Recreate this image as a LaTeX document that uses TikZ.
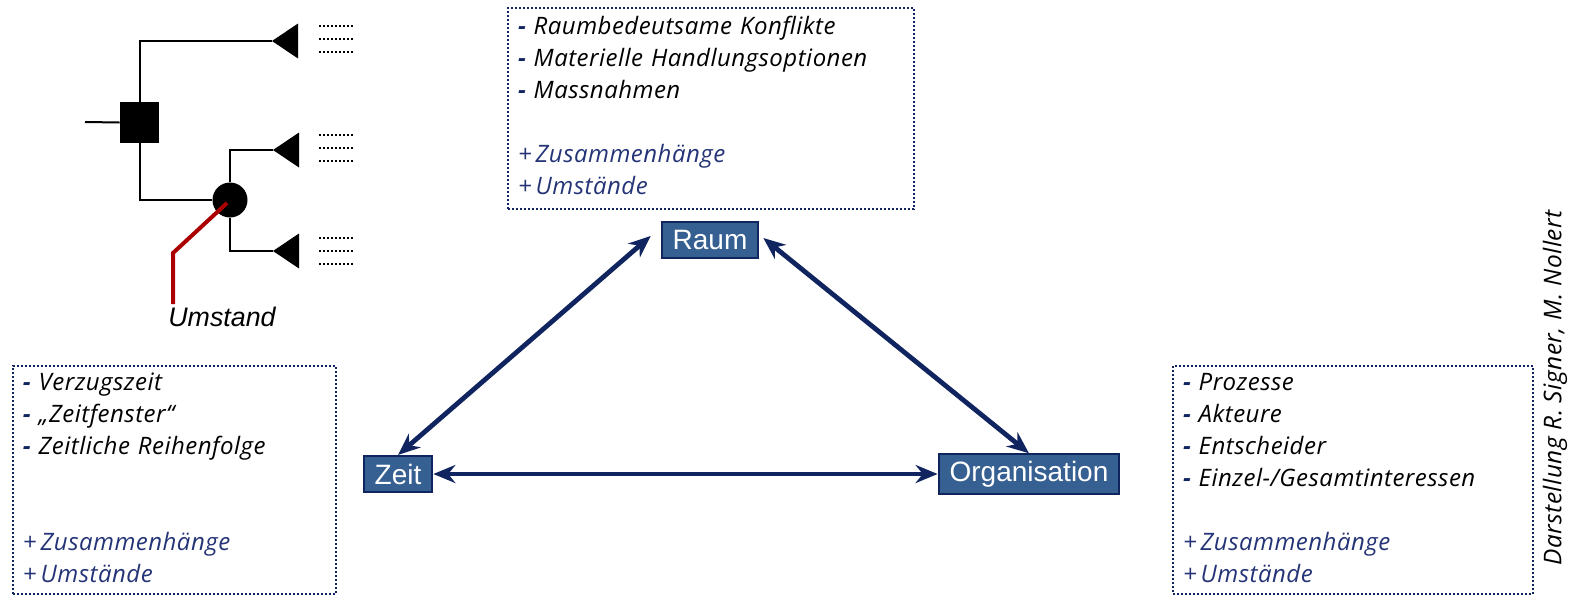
\documentclass[tikz,border=0pt]{standalone}
\usepackage{fontspec}
\setmainfont{Liberation Sans}
\newfontfamily\notefont{Open Sans}[LetterSpace=2]
\usetikzlibrary{arrows.meta}
\definecolor{navyline}{RGB}{16,36,96}
\definecolor{boxblue}{RGB}{54,96,146}
\definecolor{noteblue}{RGB}{36,52,118}
\definecolor{umstandred}{RGB}{170,0,0}
\newcommand{\lstdash}{\textcolor{navyline}{\textbf{-}}\ }
\newcommand{\lstplus}{\textcolor{noteblue}{+\,}}

\begin{document}
\begin{tikzpicture}[x=0.5pt,y=-0.5pt,
  tree/.style={line width=1pt},
  decision/.style={fill=black, minimum width=19.5pt, minimum height=20.5pt, inner sep=0},
  chance/.style={circle, fill=black, minimum size=17.5pt, inner sep=0},
  dotrow/.style={line width=0.6pt, dash pattern=on 0.9pt off 1.1pt},
  umstandline/.style={line width=2pt, draw=umstandred},
  dim/.style={draw=navyline, fill=boxblue, line width=1pt, text=white, font=\fontsize{14}{16}\selectfont, inner xsep=5.5pt, minimum height=18pt},
  relarrow/.style={{Stealth[length=11pt,width=9pt]}-{Stealth[length=11pt,width=9pt]}, line width=2.4pt, draw=navyline},
  note/.style={draw=navyline, line width=1pt, dash pattern=on 1pt off 1pt, inner xsep=5pt, align=left, anchor=north west, font=\notefont\itshape\fontsize{12}{16}\selectfont}]
\useasboundingbox (0,0) rectangle (1573,595);

% decision tree
\node[decision] (dec) at (139.5,122.5) {};
\node[chance] (chance) at (230,200) {};
\coordinate (stub) at (85,122);
\coordinate (tipA) at (272,41);
\coordinate (tipB) at (273,150);
\coordinate (tipC) at (273,251);
\foreach \t in {tipA,tipB,tipC}
  \fill (\t) -- ++(26,-17.5) -- ++(0,35) -- cycle; % end triangles
\draw[tree] (stub) -- (dec.west);
\draw[tree] (dec.north) |- (tipA);
\draw[tree] (dec.south) |- (chance.west);
\draw[tree] (chance.north) |- (tipB);
\draw[tree] (chance.south) |- (tipC);
\foreach \y in {26,39,52,135,148,161,238,251,264}
  \draw[dotrow] (319,\y) -- (354,\y); % dotted placeholders

\node[anchor=base, inner sep=1pt, font=\itshape\fontsize{13.4}{15}\selectfont] (umstand) at (222,326) {Umstand};
\coordinate (bend) at (173,253);
\draw[umstandline] ([shift={(-3,3)}]chance.center) -- (bend) -- (bend |- umstand.north);

% triangle of dimensions
\node[dim] (raum) at (710,240) {Raum};
\node[dim] (zeit) at (398,474) {Zeit};
\node[dim] (org) at (1029,474) {Organisation};
\draw[relarrow] ([shift={(-10,-4)}]raum.west) -- (zeit.north);
\draw[relarrow] ([shift={(4,-2)}]raum.east) -- (org.north);
\draw[relarrow] (zeit.east) -- (org.west);

% lists
\node[note, inner ysep=2.25pt, text width=193pt] (raumlist) at (507,7) {\strut\lstdash Raumbedeutsame Konflikte\\
  \lstdash Materielle Handlungsoptionen\\
  \lstdash Massnahmen\\[16pt]
  \color{noteblue}\lstplus Zusammenh\"ange\\
  \color{noteblue}\lstplus Umst\"ande\strut};
\node[note, inner ysep=1pt, text width=151.5pt] (zeitlist) at (12,365) {\strut\lstdash Verzugszeit\\
  \lstdash „Zeitfenster“\\
  \lstdash Zeitliche Reihenfolge\\[32pt]
  \color{noteblue}\lstplus Zusammenh\"ange\\
  \color{noteblue}\lstplus Umst\"ande\strut};
\node[note, inner ysep=1pt, text width=170pt] (orglist) at (1172,365) {\strut\lstdash Prozesse\\
  \lstdash Akteure\\
  \lstdash Entscheider\\
  \lstdash Einzel-/Gesamtinteressen\\[16pt]
  \color{noteblue}\lstplus Zusammenh\"ange\\
  \color{noteblue}\lstplus Umst\"ande\strut};

\node[rotate=90, font=\notefont\itshape\fontsize{12.2}{14}\selectfont] (credit) at (1555,388) {Darstellung R. Signer, M. Nollert};
\end{tikzpicture}
\end{document}
